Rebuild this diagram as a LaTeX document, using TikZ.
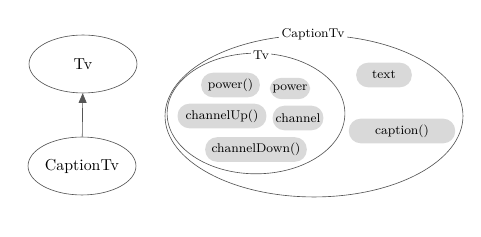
\documentclass[tikz,border=0pt]{standalone}
\usepackage{xcolor}
\usepackage{tikz}
\usetikzlibrary{shapes.geometric, arrows.meta, positioning}
\definecolor{linegray}{HTML}{555555}
\definecolor{pillgray}{HTML}{D9D9D9}
\tikzset{
  classnode/.style={
    ellipse, draw=linegray, thin,
    minimum width=68pt, minimum height=36.5pt,
    inner sep=0pt, font=\normalsize,
  },
  scopenode/.style={
    ellipse, draw=linegray, thin, inner sep=0pt,
  },
  scopelabel/.style={
    fill=white, inner sep=1.5pt, font=\footnotesize,
  },
  pill/.style={
    rectangle, rounded corners=7.5pt, fill=pillgray,
    minimum width=#1, minimum height=15.5pt,
    inner sep=0pt, font=\footnotesize,
  },
  arrow/.style={-{Triangle[length=6pt, width=5pt]}, thin, color=linegray},
}
\begin{document}
\begin{tikzpicture}[x=0.63pt, y=-0.63pt]
  \useasboundingbox (0,0) rectangle (481,237);

  % inheritance
  \node[classnode] (tv) at (83,64) {Tv};
  \node[classnode] (captiontv) at (82,166) {CaptionTv};
  \draw[arrow] (captiontv) -- (tv);

  % object layout
  \node[scopenode, minimum width=187.7pt, minimum height=102pt] (outer) at (314,116) {};
  \node[scopenode, minimum width=112pt, minimum height=76pt] (inner) at (256,113.5) {};
  \node[scopelabel] (outerlabel) at (313,34.5) {CaptionTv};
  \node[scopelabel] (innerlabel) at (261,55) {Tv};

  \node[pill=37pt] (powerfn) at (230.5,85) {power()};
  \node[pill=25.5pt, minimum height=13.5pt] (power) at (290,88.5) {power};
  \node[pill=56pt] (chup) at (222,116) {channelUp()};
  \node[pill=32pt] (channel) at (298,118) {channel};
  \node[pill=64pt] (chdown) at (256,149.5) {channelDown()};
  \node[pill=35pt] (text) at (384,75) {text};
  \node[pill=67pt] (caption) at (402,131) {caption()};

\end{tikzpicture}
\end{document}
